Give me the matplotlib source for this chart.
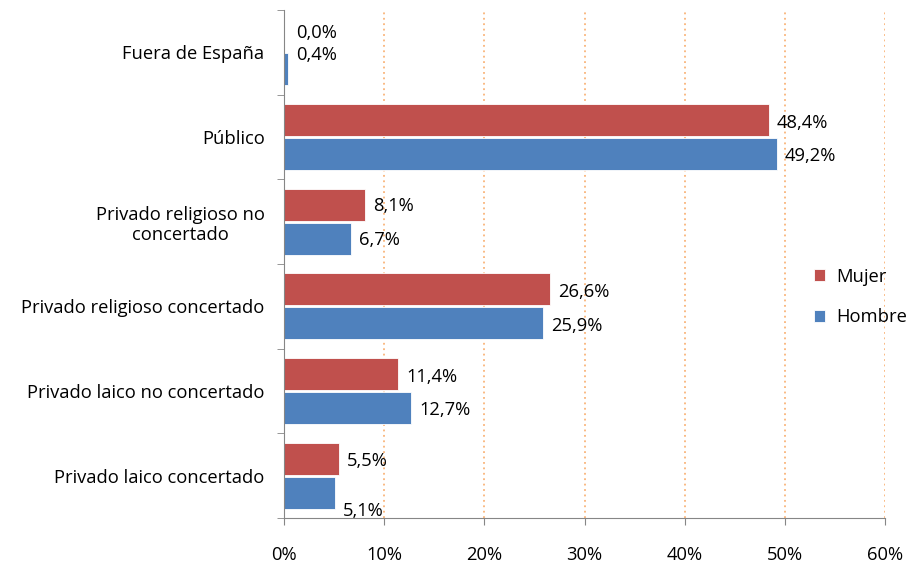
#import libraries
import matplotlib
matplotlib.use("Agg")
import matplotlib.pyplot as plt
import numpy as np

plt.rcParams['font.family'] = ['Open Sans', 'DejaVu Sans']

#data (top to bottom)
categories = ['Fuera de España', 'Público', 'Privado religioso no\nconcertado',
              'Privado religioso concertado', 'Privado laico no concertado',
              'Privado laico concertado']
mujer = [0.0, 48.4, 8.1, 26.6, 11.4, 5.5]
hombre = [0.4, 49.2, 6.7, 25.9, 12.7, 5.1]
xticks = [0, 10, 20, 30, 40, 50, 60]

red = '#C0504D'
blue = '#4F81BD'
fs = 13.2

fig = plt.figure(figsize=(9.1, 5.7), dpi=100)
ax = fig.add_axes([284/910, 1-518/570, (885-284)/910, (518-10)/570])

y = np.arange(len(categories))
h = 0.38
ax.barh(y - 0.2, mujer, height=h, color=red, edgecolor='white', linewidth=0.6, label='Mujer', zorder=3)
ax.barh(y + 0.2, hombre, height=h, color=blue, edgecolor='white', linewidth=0.6, label='Hombre', zorder=3)

#data labels, with small nudges like the original
nudge_m = [-0.03, 0.03, 0.02, 0.03, 0.03, 0.03]
nudge_h = [-0.17, 0.03, 0.02, 0.03, 0.03, 0.22]
for i in range(len(categories)):
    xm = max(mujer[i], 0.4) + 0.8
    ax.text(xm, y[i] - 0.2 + nudge_m[i], ('%.1f%%' % mujer[i]).replace('.', ','),
            va='center', ha='left', fontsize=fs, zorder=4)
    ax.text(hombre[i] + 0.8, y[i] + 0.2 + nudge_h[i], ('%.1f%%' % hombre[i]).replace('.', ','),
            va='center', ha='left', fontsize=fs, zorder=4)

ax.set_xlim(0, 60)
ax.set_ylim(len(categories) - 0.5, -0.5)
ax.set_xticks(xticks)
ax.set_xticklabels(['%d%%' % t for t in xticks], fontsize=fs)
ax.set_yticks(y)
ax.set_yticklabels(categories, fontsize=fs, ha='right', multialignment='center')
ax.set_yticks(np.arange(len(categories) + 1) - 0.5, minor=True)
ax.tick_params(axis='y', which='major', length=0, pad=14)
ax.tick_params(axis='y', which='minor', length=5, color='#868686')
ax.tick_params(axis='x', length=5, color='#868686', pad=15)

#dotted orange gridlines
ax.grid(axis='x', color='#F9B47A', linestyle=(0, (1, 2)), linewidth=1.3, zorder=0)
for side in ['top', 'right']:
    ax.spines[side].set_visible(False)
for side in ['left', 'bottom']:
    ax.spines[side].set_color('#868686')
    ax.spines[side].set_zorder(5)

ax.legend(loc='center left', bbox_to_anchor=(0.87, 0.435), frameon=False,
          fontsize=fs, handlelength=0.6, handleheight=0.6, labelspacing=1.25,
          handletextpad=0.6, borderaxespad=0)

plt.savefig('out.png', dpi=100)
